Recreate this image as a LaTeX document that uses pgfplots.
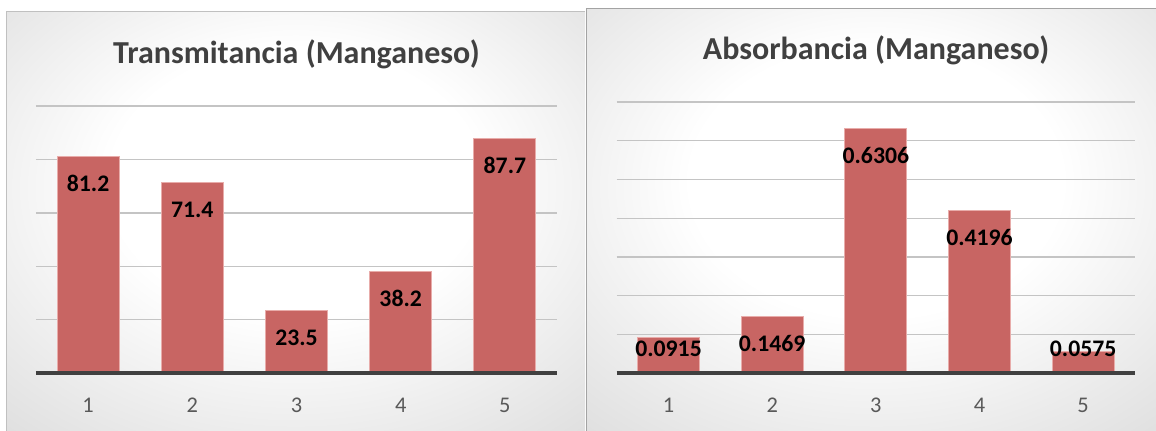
\documentclass[border=0pt]{standalone}
\usepackage{fontspec}
\setmainfont{Carlito}
\usepackage{pgfplots}
\pgfplotsset{compat=1.18}

\definecolor{barFill}{RGB}{200,101,99}
\definecolor{barEdge}{RGB}{232,172,170}
\definecolor{gridC}{RGB}{196,196,196}
\definecolor{baseC}{RGB}{64,64,64}
\definecolor{titleC}{RGB}{64,64,64}
\definecolor{tickC}{RGB}{89,89,89}
\definecolor{bgMid}{RGB}{208,208,208}
\definecolor{bgEdge}{RGB}{184,184,184}
\definecolor{frameC}{RGB}{192,192,192}

% chart-area fill: white centre fading to grey edges
\pgfdeclareradialshading{panelbg}{\pgfpoint{0bp}{6bp}}{%
  color(0bp)=(white); color(16bp)=(white); color(48bp)=(bgMid); color(74bp)=(bgEdge)}

% pixel-style coordinates: origin top-left, 1 unit = 0.75pt
\newcommand\PX[2]{({(#1)*0.75pt},{-(#2)*0.75pt})}

\pgfplotsset{
  mnbar/.style={
    scale only axis,
    separate axis lines,
    axis x line*=bottom, axis y line*=left,
    axis line style={draw=none},
    clip=false,
    xmin=0.5, xmax=5.5, ymin=0,
    enlargelimits=false,
    xtick={1,2,3,4,5},
    xticklabels={1,2,3,4,5},
    major tick length=0pt,
    yticklabels={},
    ymajorgrids,
    grid style={draw=gridC, line width=0.9pt},
    xticklabel style={font=\fontsize{16.8}{19}\selectfont, text=tickC, anchor=base, yshift=-29.5pt},
    /pgf/number format/assume math mode=true,
    ybar, bar width=46.5pt,
    point meta=explicit symbolic,
    nodes near coords,
    every node near coord/.append style={font=\fontsize{17.8}{20}\selectfont\bfseries, text=black, anchor=center},
  },
}

\begin{document}
\begin{tikzpicture}
\useasboundingbox \PX{0}{0} rectangle \PX{1156}{431};
\clip \PX{0}{0} rectangle \PX{1156}{431};

% chart areas
\shade[shading=panelbg] \PX{6}{12} rectangle \PX{585}{433};
\draw[frameC, line width=0.75pt] \PX{6}{433} -- \PX{6}{12} -- \PX{585}{12};
\shade[shading=panelbg] \PX{586}{9} rectangle \PX{1166}{433};
\draw[frameC!85!black, line width=0.75pt] \PX{586}{433} -- \PX{586}{9} -- \PX{1166}{9};

% titles
\node[anchor=base, text=titleC, font=\fontsize{24}{27}\selectfont\bfseries, inner sep=0pt] at \PX{296.5}{63.3} {Transmitancia (Manganeso)};
\node[anchor=base, text=titleC, font=\fontsize{24}{27}\selectfont\bfseries, inner sep=0pt] at \PX{876}{60} {Absorbancia (Manganeso)};

% transmittance
\begin{axis}[mnbar,
  at={(27pt,-279.975pt)}, anchor=south west,
  width=390.75pt, height=200.475pt,
  ymax=100, ytick={20,40,60,80,100},
  visualization depends on={rawy \as \rawy},
  every node near coord/.append style={yshift={-0.75pt*min(27,\rawy*2.673-25)}},
]
\addplot[fill=barFill, draw=barEdge, line width=0.75pt] coordinates {
  (1,81.2) [81.2]
  (2,71.4) [71.4]
  (3,23.5) [23.5]
  (4,38.2) [38.2]
  (5,87.7) [87.7]
};
\draw[baseC, line width=3pt] (axis cs:0.5,0) -- (axis cs:5.5,0);
\end{axis}

% absorbance
\begin{axis}[mnbar,
  at={(462.525pt,-279.975pt)}, anchor=south west,
  width=388.725pt, height=203.475pt,
  ymax=0.7, ytick={0.1,0.2,0.3,0.4,0.5,0.6,0.7},
  visualization depends on={rawy \as \rawy},
  every node near coord/.append style={yshift={-0.75pt*min(27,\rawy*387.6-25)}},
]
\addplot[fill=barFill, draw=barEdge, line width=0.75pt] coordinates {
  (1,0.0915) [0.0915]
  (2,0.1469) [0.1469]
  (3,0.6306) [0.6306]
  (4,0.4196) [0.4196]
  (5,0.0575) [0.0575]
};
\draw[baseC, line width=3pt] (axis cs:0.5,0) -- (axis cs:5.5,0);
\end{axis}
\end{tikzpicture}
\end{document}
